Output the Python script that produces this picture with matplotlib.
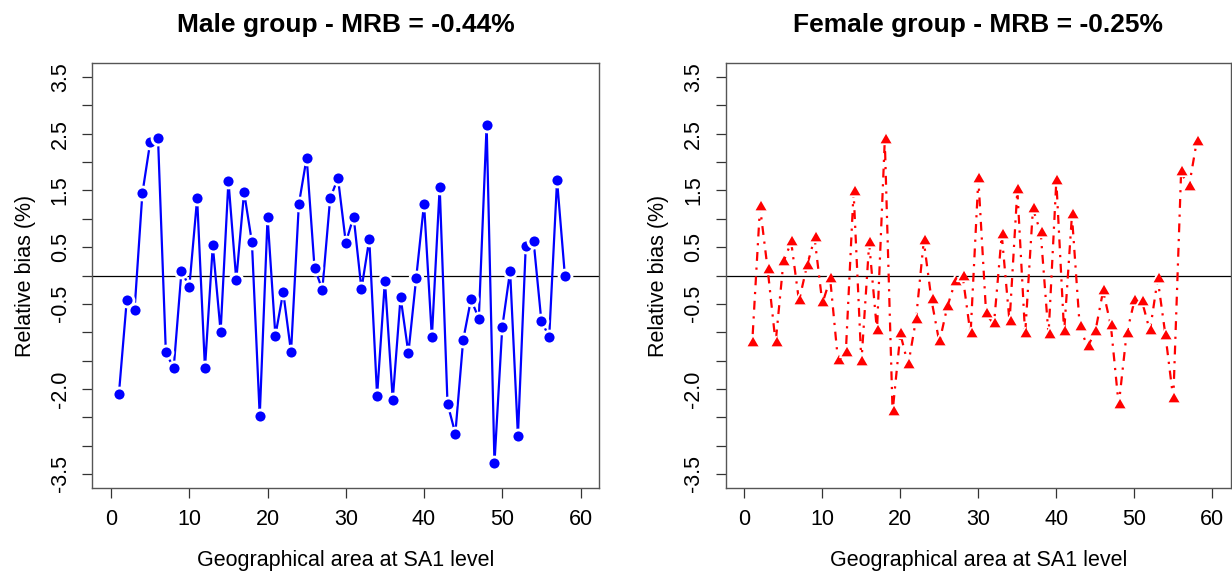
import numpy as np
import matplotlib
matplotlib.use("Agg")
import matplotlib.pyplot as plt

plt.rcParams['font.family'] = ['Liberation Sans', 'DejaVu Sans']

# relative bias (%) per SA1 area
areas = np.arange(1, 59)
male_bias = [-2.09, -0.44, -0.61, 1.45, 2.35, 2.42, -1.35, -1.64, 0.08, -0.20,
             1.36, -1.64, 0.53, -0.99, 1.67, -0.08, 1.47, 0.59, -2.48, 1.03,
             -1.06, -0.29, -1.35, 1.26, 2.08, 0.14, -0.25, 1.36, 1.72, 0.58,
             1.04, -0.24, 0.64, -2.12, -0.09, -2.19, -0.38, -1.37, -0.04, 1.27,
             -1.09, 1.56, -2.26, -2.79, -1.14, -0.42, -0.76, 2.66, -3.31, -0.91,
             0.08, -2.83, 0.52, 0.61, -0.81, -1.08, 1.68, 0.00]
female_bias = [-1.19, 1.21, 0.09, -1.19, 0.24, 0.59, -0.45, 0.16, 0.66, -0.49,
               -0.06, -1.50, -1.37, 1.48, -1.53, 0.57, -0.98, 2.39, -2.41, -1.03,
               -1.58, -0.78, 0.61, -0.44, -1.18, -0.56, -0.12, -0.02, -1.04, 1.71,
               -0.68, -0.86, 0.72, -0.82, 1.51, -1.04, 1.18, 0.75, -1.05, 1.67,
               -1.00, 1.06, -0.90, -1.26, -0.99, -0.27, -0.89, -2.29, -1.04, -0.45,
               -0.46, -0.98, -0.06, -1.06, -2.18, 1.82, 1.56, 2.36]

titles = ["Male group - MRB = -0.44%", "Female group - MRB = -0.25%"]
xticks = [0, 10, 20, 30, 40, 50, 60]
yticks = np.arange(-3.5, 3.51, 0.5)
ylabels_shown = {-3.5: "-3.5", -2.0: "-2.0", -0.5: "-0.5", 0.5: "0.5",
                 1.5: "1.5", 2.5: "2.5", 3.5: "3.5"}

W, H = 1232, 573
fig = plt.figure(figsize=(W / 100, H / 100), dpi=100)

boxes = [(92.3, 599.3), (725.7, 1231.0)]
top, bottom = 63.3, 487.7

# R-style filled triangle (pch 17), centred on its centroid
tri = [(0, 1), (-0.866, -0.5), (0.866, -0.5)]

styles = [dict(color='#0000FF', linestyle='-', marker='o', markersize=9.3,
               markeredgewidth=2),
          dict(color='#FF0000', linestyle=(0, (1, 3, 4, 3)), marker=tri,
               markersize=10.8, markeredgewidth=1.3)]

for (x0, x1), title, vals, st in zip(boxes, titles, [male_bias, female_bias], styles):
    ax = fig.add_axes([x0 / W, (H - bottom) / H, (x1 - x0) / W, (bottom - top) / H])
    ax.plot(areas, vals, color=st['color'], linestyle=st['linestyle'], lw=1.6,
            marker=st['marker'], markersize=st['markersize'],
            markerfacecolor=st['color'], markeredgecolor='white',
            markeredgewidth=st['markeredgewidth'], zorder=3)
    ax.axhline(0, color='black', lw=0.9, zorder=2)
    ax.set_xlim(-2.4, 62.4)
    ax.set_ylim(-3.744, 3.744)
    ax.set_xticks(xticks)
    ax.set_yticks(yticks)
    ax.set_yticklabels([ylabels_shown.get(round(v, 1), "") for v in yticks],
                       rotation=90, va='center')
    ax.tick_params(axis='both', direction='out', length=7.5, width=0.9,
                   colors='#333333', labelcolor='black', labelsize=15.5, pad=8)
    for s in ax.spines.values():
        s.set_color('#555555')
        s.set_linewidth(1.0)
    ax.set_xlabel("Geographical area at SA1 level", fontsize=15.5, labelpad=14)
    ax.set_ylabel("Relative bias (%)", fontsize=15.5, labelpad=10)
    ax.set_title(title, fontsize=19, fontweight='bold', pad=22.5)

fig.savefig("out.png", dpi=100)
